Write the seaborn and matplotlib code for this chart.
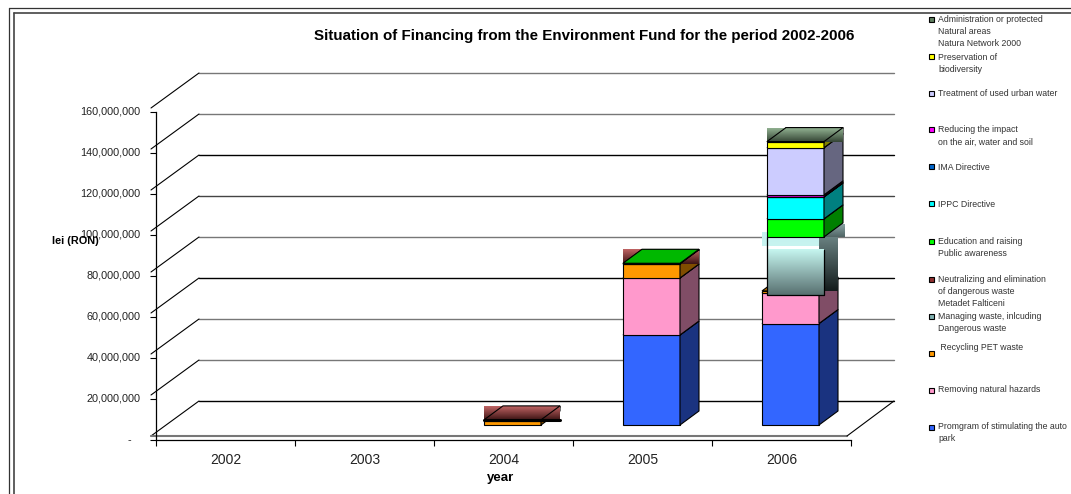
import numpy as np
import matplotlib
matplotlib.use("Agg")
import matplotlib.pyplot as plt
import matplotlib.transforms as mtrans
from matplotlib.lines import Line2D
from matplotlib.patches import Polygon, Rectangle
from matplotlib.colors import to_rgb
import seaborn as sns

years = ["2002", "2003", "2004", "2005", "2006"]

# stacked from the bottom up, lei (RON)
program_auto = [0, 0, 0, 43.9e6, 49.5e6]
natural_hazards = [0, 0, 0, 27.8e6, 14.9e6]
recycling_pet = [0, 0, 2.0e6, 6.8e6, 1.0e6]
managing_waste = [0, 0, 0, 0, 28.3e6]
neutralizing = [0, 0, 0.5e6, 0.2e6, 0]
education = [0, 0, 0, 0.2e6, 8.8e6]
ippc = [0, 0, 0, 0, 10.7e6]
ima = [0, 0, 0, 0, 0.2e6]
reducing = [0, 0, 0, 0, 0.8e6]
urban_water = [0, 0, 0, 0, 23.0e6]
biodiversity = [0, 0, 0, 0, 2.9e6]
protected_areas = [0, 0, 0, 0, 0.1e6]

stack = [program_auto, natural_hazards, recycling_pet, managing_waste, neutralizing, education,
         ippc, ima, reducing, urban_water, biodiversity, protected_areas]
stack_colors = ["#3366ff", "#ff99cc", "#ff9900", "#8fb8b8", "#a04040", "#00ff00",
                "#00ffff", "#0066cc", "#cc00cc", "#ccccff", "#ffff00", "#608060"]

title = "Situation of Financing from the Environment Fund for the period 2002-2006"

# legend text, top to bottom, with the swatch colour
legend_labels = [
    ["Administration or protected", "Natural areas", "Natura Network 2000"],
    ["Preservation of", "biodiversity"],
    ["Treatment of used urban water"],
    ["Reducing the impact", "on the air, water and soil"],
    ["IMA Directive"],
    ["IPPC Directive"],
    ["Education and raising", "Public awareness"],
    ["Neutralizing and elimination", "of dangerous waste", "Metadet Falticeni"],
    ["Managing waste, inlcuding", "Dangerous waste"],
    [" Recycling PET waste"],
    ["Removing natural hazards"],
    ["Promgram of stimulating the auto", "park"],
]
legend_colors = ["#608060", "#ffff00", "#ccccff", "#ff00ff", "#0066cc", "#00ffff",
                 "#00ff00", "#903030", "#80b0b0", "#ff9900", "#ff99cc", "#3366ff"]
legend_text_y = [19, 57, 94, 130, 167, 204, 241, 279, 316, 347, 389, 426]
legend_box_y = [20, 57, 94, 130, 167, 204, 242, 279, 316, 353, 390, 427]

W, H = 1071, 494
PX_X = 1 / 139.0       # one pixel in category units
PX_Y = 20e6 / 41.0     # one pixel in lei
BAR_DX, BAR_DY = 19 * PX_X, 14 * PX_Y
WALL_DX, WALL_DY = 48 * PX_X, 35 * PX_Y

sns.set_theme(style="white")
plt.rcParams["font.family"] = ["Liberation Sans", "DejaVu Sans"]

fig = plt.figure(figsize=(W / 100, H / 100), dpi=100)
ax = fig.add_axes([156 / W, 1 - 440 / H, 695 / W, 328 / H])
ax.patch.set_alpha(0)


def shifted(dx, dy):
    return ax.transData + mtrans.Affine2D().translate(dx, dy)


bar_tf = shifted(9, 15)
upper_tf = shifted(14, 11)   # upper part of the 2006 column sits a little off
wall_tf = shifted(-5, 4)


def gradient(x0, x1, y0, y1, top, bottom, tf, z):
    a = np.linspace(to_rgb(bottom), to_rgb(top), 64).reshape(64, 1, 3)
    ax.imshow(a, extent=(x0, x1, y0, y1), origin="lower", aspect="auto", transform=tf,
              zorder=z, clip_on=False, interpolation="bilinear")


def face(points, color, tf, z, edge="black"):
    ax.add_patch(Polygon(points, closed=True, facecolor=color, edgecolor=edge, linewidth=0.8,
                         transform=tf, zorder=z, clip_on=False))


# back wall and floor
wall_colors = ["black", "#777777", "#777777", "black", "#777777", "#444444", "black", "#777777", "#777777"]
yticks = np.arange(0, 160e6 + 1, 20e6)
x_left = -0.5
x_back_right = x_left + 743 * PX_X
x_front_right = x_left + 696 * PX_X
for v, c in zip(yticks, wall_colors):
    ax.plot([x_left + WALL_DX, x_back_right], [v + WALL_DY, v + WALL_DY], color=c, lw=1.0,
            transform=wall_tf, clip_on=False, zorder=1)
    ax.plot([x_left, x_left + WALL_DX], [v, v + WALL_DY], color="black", lw=0.8,
            transform=wall_tf, clip_on=False, zorder=1)
ax.plot([x_left, x_front_right], [0, 0], color="#777777", lw=1.5, transform=wall_tf, clip_on=False, zorder=1)
ax.plot([x_front_right, x_back_right], [0, WALL_DY], color="black", lw=0.8, transform=wall_tf,
        clip_on=False, zorder=1)

# columns
stack_arr = np.array(stack, dtype=float)
bottoms = np.vstack([np.zeros(len(years)), np.cumsum(stack_arr, axis=0)[:-1]])
for i, (vals, color) in enumerate(zip(stack_arr, stack_colors)):
    keep = vals > 0
    z = 5 + i
    sns.barplot(x=np.array(years)[keep], y=vals[keep], order=years, bottom=bottoms[i][keep], width=0.41,
                color=color, saturation=1, edgecolor="black", linewidth=0.8, errorbar=None, ax=ax, zorder=z)
    bars = ax.containers[-1]
    for bar, yr in zip(bars, np.flatnonzero(keep)):
        tf = upper_tf if (i >= 3 and yr == 4) else bar_tf
        bar.set_transform(tf)
        bar.set_clip_on(False)
        x0, x1 = bar.get_x(), bar.get_x() + bar.get_width()
        y0, y1 = bar.get_y(), bar.get_y() + bar.get_height()
        dark = tuple(0.5 * c for c in to_rgb(color))
        top = tuple(0.72 * c for c in to_rgb(color))
        if i == 3:
            # the gradient block of 2006: side and top come out of the lower column
            bar.set_visible(False)
            sx = x1 - 5 * PX_X
            gradient(x1, x1 + BAR_DX, y0, y1 - 4 * PX_Y, "#6a8282", "#141c1c", bar_tf, z)
            gradient(x1 - 1 * PX_X, x1 + BAR_DX + 2 * PX_X, y1, y1 + BAR_DY - 1 * PX_Y,
                     "#8aa4a4", "#506464", upper_tf, z)
            light = y1 - 9 * PX_Y
            gradient(x0 - 5 * PX_X, sx, light, light + 14 * PX_Y, "#c4f0ee", "#c8f4f0", upper_tf, z)
            gradient(x0, sx, light - 4 * PX_Y, light, "#ffffff", "#ffffff", upper_tf, z)
            gradient(x0, x1, y0, light - 4 * PX_Y, "#c6f6f0", "#587070", upper_tf, z)
            mid = light - 4 * PX_Y
            ax.plot([x0, x0, x1, x1], [y1, y0, y0, mid], color="black", lw=0.9, transform=upper_tf,
                    clip_on=False, zorder=z)
            continue
        face([(x1, y0), (x1 + BAR_DX, y0 + BAR_DY), (x1 + BAR_DX, y1 + BAR_DY), (x1, y1)], dark, tf, z)
        if i == 4:
            # dark red roof painted as a gradient strip
            gradient(x0, x1 + BAR_DX, y1, y1 + BAR_DY, "#c06464", "#3c1414", tf, z)
            face([(x0, y1), (x0 + BAR_DX, y1 + BAR_DY), (x1 + BAR_DX, y1 + BAR_DY), (x1, y1)], "none", tf, z)
            if years[yr] == "2004":
                ax.plot([x0, x1 + BAR_DX], [y1, y1], color="black", lw=2.2, transform=tf, clip_on=False, zorder=z)
        elif i == 11:
            gradient(x0, x1 + BAR_DX, y1, y1 + BAR_DY, "#90b090", "#344434", tf, z)
            face([(x0, y1), (x0 + BAR_DX, y1 + BAR_DY), (x1 + BAR_DX, y1 + BAR_DY), (x1, y1)], "none", tf, z)
        else:
            face([(x0, y1), (x0 + BAR_DX, y1 + BAR_DY), (x1 + BAR_DX, y1 + BAR_DY), (x1, y1)], top, tf, z)

# axes
ax.set_xlim(-0.5, 4.5)
ax.set_ylim(0, 160e6)
ax.set_xlabel("")
ax.set_ylabel("")
sns.despine(ax=ax)
for s in ("left", "bottom"):
    ax.spines[s].set_color("black")
    ax.spines[s].set_linewidth(0.9)
    ax.spines[s].set_zorder(2)
ax.set_yticks(yticks)
ax.set_yticklabels([f"{v:,.0f}" if v > 0 else "-   " for v in yticks], fontsize=7.8, color="#222222")
ax.set_xticks(range(len(years)))
ax.set_xticklabels(years, fontsize=10, color="#222222")
ax.set_xticks(np.arange(-0.5, 5), minor=True)
ax.tick_params(axis="y", length=4.3, width=0.8, pad=7, color="black", left=True)
ax.tick_params(axis="x", which="major", length=0, pad=9, bottom=False)
ax.tick_params(axis="x", which="minor", length=4.3, width=0.8, color="black", bottom=True)
# labels sit a little above their ticks
for lab in ax.get_yticklabels():
    lab.set_transform(lab.get_transform() + mtrans.Affine2D().translate(0, 1.5))


def fig_text(px, py, s, **kw):
    fig.text(px / W, 1 - py / H, s, va="center", **kw)


fig_text(584, 36, title, ha="center", fontsize=10.9, fontweight="bold", color="black")
fig_text(52, 241, "lei (RON)", ha="left", fontsize=7.8, fontweight="bold", color="black")
fig_text(501, 478, "year", ha="center", fontsize=9.5, fontweight="bold", color="black")

# legend on the right, one hand placed row per series
for lines, color, ty, by in zip(legend_labels, legend_colors, legend_text_y, legend_box_y):
    fig.add_artist(Rectangle((929 / W, 1 - (by + 2.5) / H), 5 / W, 5 / H, facecolor=color, edgecolor="black",
                             linewidth=0.8, transform=fig.transFigure))
    for j, line in enumerate(lines):
        fig_text(938, ty + j * 12.4, line, ha="left", fontsize=6.3, color="#333333")

# double frame round the chart area
for xs, ys, c, lw in [([9, 9], [8, H], "#333333", 0.9), ([9, W], [8, 8], "#333333", 0.9),
                      ([14, 14], [13, H], "#444444", 1.2), ([14, W], [13, 13], "#444444", 1.2)]:
    fig.add_artist(Line2D([x / W for x in xs], [1 - y / H for y in ys], color=c, linewidth=lw,
                          transform=fig.transFigure))

fig.savefig("out.png", dpi=100)
